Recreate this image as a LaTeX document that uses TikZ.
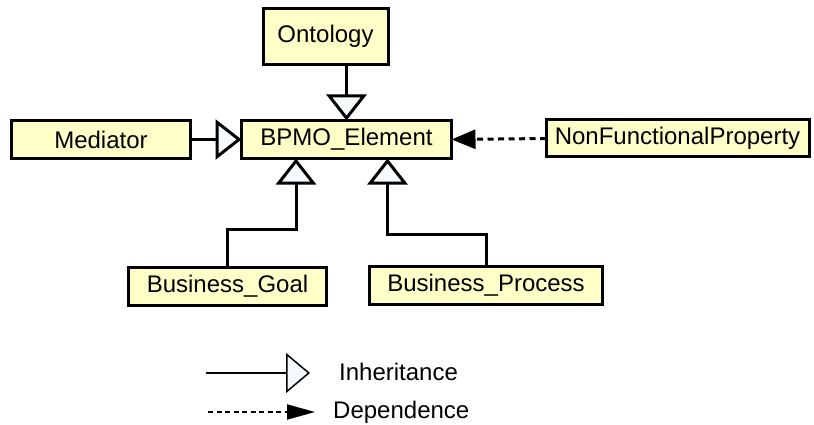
\documentclass[tikz,border=0pt]{standalone}
\usepackage{fontspec}
\setmainfont{Liberation Sans}
\usetikzlibrary{arrows.meta}
\definecolor{boxfill}{RGB}{255,255,200}
\definecolor{trifill}{RGB}{246,250,252}
\tikzset{
  inhtip/.tip={Triangle[length=26pt,width=40pt,fill=trifill]},
  deptip/.tip={Triangle[length=24pt,width=19pt]},
  leginhtip/.tip={Triangle[length=24pt,width=40pt,fill=trifill,line width=1.5pt]},
  legdeptip/.tip={Triangle[length=28pt,width=15pt]}
}
\begin{document}
\begin{tikzpicture}[x=1pt,y=-1pt,
  cls/.style={draw=black,fill=boxfill,line width=3pt,rectangle,inner sep=0pt,outer sep=0pt,
    font=\fontsize{24}{28}\selectfont},
  inh/.style={line width=3pt,-inhtip},
  dep/.style={line width=3pt,dash pattern=on 6pt off 4.5pt,-deptip},
  lbl/.style={font=\fontsize{24}{28}\selectfont,anchor=west,inner sep=0pt}]
\useasboundingbox (0,0) rectangle (814,425);
\node[cls,minimum width=125pt,minimum height=56pt] (ont) at (325.5,36.5) {Ontology};
\node[cls,minimum width=210pt,minimum height=38pt] (bpmo) at (346.5,139.5) {BPMO\_Element};
\node[cls,minimum width=179pt,minimum height=38pt] (med) at (101,139.5) {Mediator};
\node[cls,minimum width=263pt,minimum height=37pt] (nfp) at (677.5,138.5) {NonFunctionalProperty};
\node[cls,minimum width=198pt,minimum height=38pt] (bg) at (227.5,286.5) {Business\_Goal};
\node[cls,minimum width=233pt,minimum height=38pt] (bp) at (486,285.5) {Business\_Process};
% connectors
\draw[inh] (bpmo.north |- ont.south) -- (bpmo.north);
\draw[inh] (med.east) -- (bpmo.west);
\draw[dep] (nfp.west) -- (bpmo.east);
\coordinate (bgbend) at (227.5,229);
\coordinate (bgtarget) at (296,158.5);
\draw[inh] (bg.north) -- (bgbend) -| (bgtarget);
\coordinate (bpbend) at (486,234);
\coordinate (bptarget) at (387.5,158.5);
\draw[inh] (bp.north) -- (bpbend) -| (bptarget);
% legend
\coordinate (l1a) at (206,373);
\coordinate (l1b) at (310,373);
\coordinate (l2a) at (208,412);
\coordinate (l2b) at (315,412);
\draw[line width=2pt,-leginhtip] (l1a) -- (l1b);
\draw[line width=2pt,dash pattern=on 5pt off 3.5pt,-legdeptip] (l2a) -- (l2b);
\node[lbl] (t1) at (339,372) {Inheritance};
\node[lbl] (t2) at (333,412) {Dependence};
\end{tikzpicture}
\end{document}
